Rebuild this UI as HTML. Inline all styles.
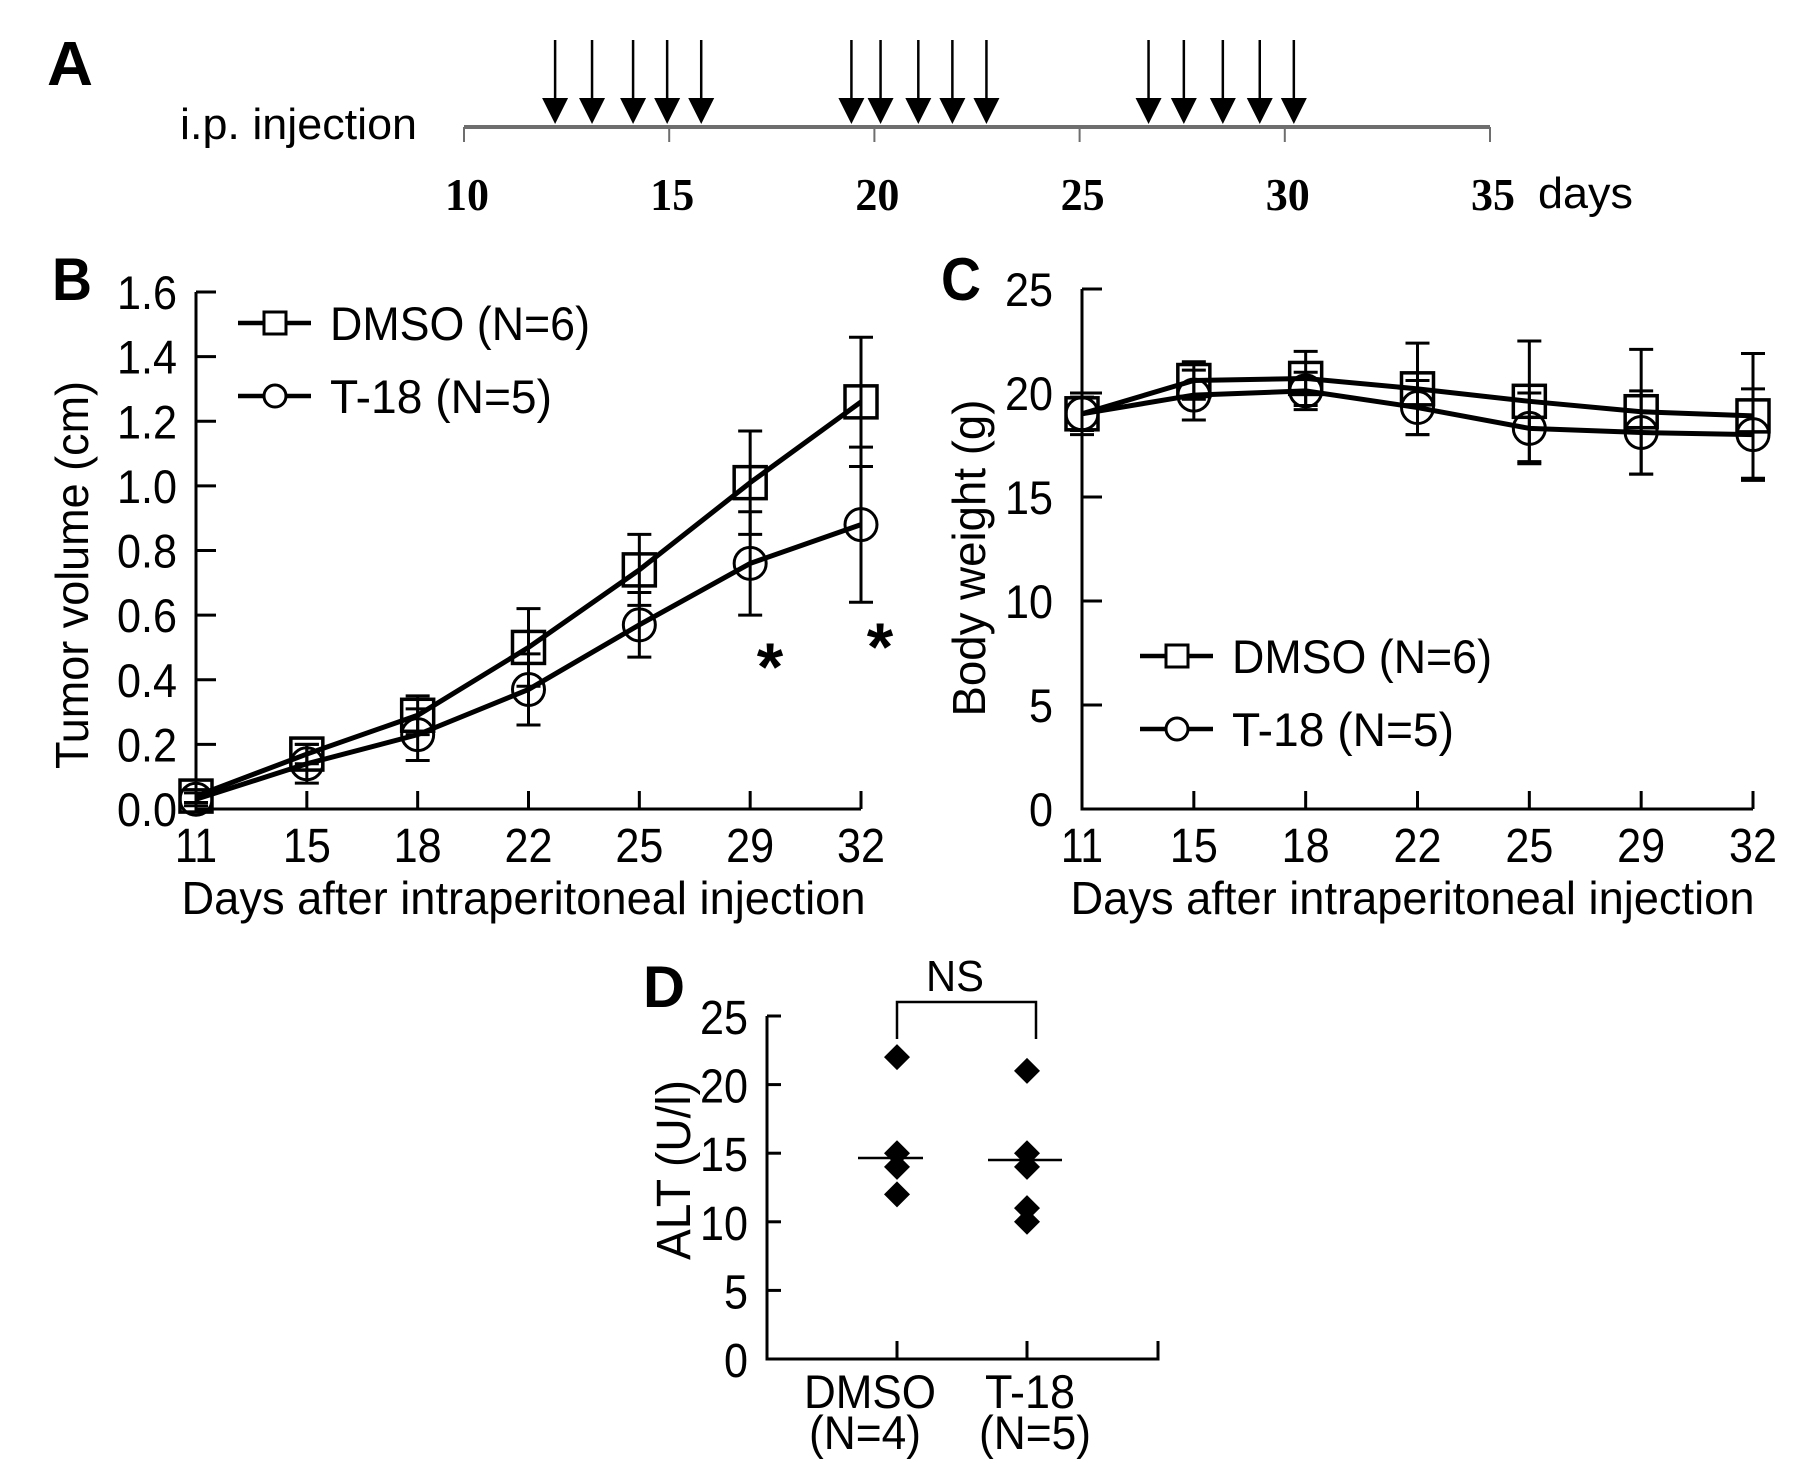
<!DOCTYPE html>
<html><head><meta charset="utf-8"><style>
html,body{margin:0;padding:0;background:#fff;}
svg{display:block;}
text{font-family:"Liberation Sans",Arial,sans-serif;fill:#000;}
.serif{font-family:"Liberation Serif",serif;font-weight:bold;}
</style></head><body>
<svg id="fig" width="1807" height="1463" viewBox="0 0 1807 1463" xmlns="http://www.w3.org/2000/svg">
<g id="panelA"></g>
<g id="panelB"></g>
<g id="panelC"></g>
<g id="panelD"></g>
</svg>
<script>
// Panel A data
const aTicks = [10, 15, 20, 25, 30, 35];
const aInjectionDays = [12.22, 13.12, 14.12, 14.95, 15.78, 19.44, 20.15, 21.07, 21.9, 22.73, 26.68, 27.54, 28.49, 29.39, 30.22];
// Panel B data
const bDays = ["11", "15", "18", "22", "25", "29", "32"];
const bYTicks = ["0.0", "0.2", "0.4", "0.6", "0.8", "1.0", "1.2", "1.4", "1.6"];
const bDmso = [0.04, 0.17, 0.29, 0.50, 0.74, 1.01, 1.26];
const bDmsoErr = [0.02, 0.03, 0.06, 0.12, 0.11, 0.16, 0.20];
const bT18 = [0.03, 0.14, 0.23, 0.37, 0.57, 0.76, 0.88];
const bT18Err = [0.02, 0.06, 0.08, 0.11, 0.10, 0.16, 0.24];
// Panel C data
const cDays = ["11", "15", "18", "22", "25", "29", "32"];
const cYTicks = ["0", "5", "10", "15", "20", "25"];
const cDmso = [19.0, 20.6, 20.7, 20.2, 19.6, 19.1, 18.9];
const cDmsoErr = [0.8, 0.9, 1.3, 2.2, 2.9, 3.0, 3.0];
const cT18 = [19.0, 19.9, 20.1, 19.3, 18.3, 18.1, 18.0];
const cT18Err = [1.0, 1.2, 0.9, 1.3, 1.7, 2.0, 2.2];
// Panel D data
const dGroups = ["DMSO", "T-18"];
const dGroupN = ["(N=4)", "(N=5)"];
const dYTicks = ["0", "5", "10", "15", "20", "25"];
const dDmsoVals = [22, 15, 14, 12];
const dT18Vals = [21, 15, 14, 11, 10];
const dMeans = [14.65, 14.5];

const NS = "http://www.w3.org/2000/svg";
function mk(parent, tag, attrs, txt) {
  const e = document.createElementNS(NS, tag);
  for (const k in attrs) e.setAttribute(k, attrs[k]);
  if (txt !== undefined) e.textContent = txt;
  parent.appendChild(e);
  return e;
}

// ---------- Panel A ----------
(function(){
  const g = document.getElementById('panelA');
  const x = d => 464 + (d - 10) * (1490 - 464) / 25;
  let t = mk(g, 'text', {x: 47, y: 85, 'font-size': 62, 'font-weight': 'bold', textLength: 46, lengthAdjust: 'spacingAndGlyphs'}, 'A');
   
  t = mk(g, 'text', {x: 180, y: 139, 'font-size': 44, textLength: 237, lengthAdjust: 'spacingAndGlyphs'}, 'i.p. injection');
   
  let l = mk(g, 'line', {x1: x(10), y1: 127, x2: x(35), y2: 127, stroke: '#6e6e6e', 'stroke-width': 4});
   
  aTicks.forEach(d => {
    const tk = mk(g, 'line', {x1: x(d), y1: 127, x2: x(d), y2: 142, stroke: '#6e6e6e', 'stroke-width': 2});
     
    const tl = mk(g, 'text', {x: x(d) + 3, y: 210, 'font-size': 46, 'text-anchor': 'middle', class: 'serif', textLength: 44, lengthAdjust: 'spacingAndGlyphs'}, String(d));
     
  });
  t = mk(g, 'text', {x: 1538, y: 208, 'font-size': 44, textLength: 95, lengthAdjust: 'spacingAndGlyphs'}, 'days');
   
  aInjectionDays.forEach(d => {
    const ag = mk(g, 'g', {});
     
    mk(ag, 'line', {x1: x(d), y1: 40, x2: x(d), y2: 100, stroke: '#000', 'stroke-width': 2.5});
    mk(ag, 'polygon', {points: `${x(d)-13},98 ${x(d)+13},98 ${x(d)},124`, fill: '#000'});
  });
})();

// ---------- Line chart helper ----------
function lineChart(gid, cfg) {
  const g = document.getElementById(gid);
  const {x0, x1, y0, y1, yMax, cats, yTicks, s1, e1, s2, e2} = cfg;
  const n = cats.length;
  const xs = i => x0 + i * (x1 - x0) / (n - 1);
  const ys = v => y0 - v / yMax * (y0 - y1);
  let t = mk(g, 'text', {x: cfg.lx, y: cfg.ly, 'font-size': 60, 'font-weight': 'bold', textLength: 40, lengthAdjust: 'spacingAndGlyphs'}, cfg.label);
   
  const ax = mk(g, 'path', {d: `M${x0},${ys(yMax)} V${y0} H${x1}`, fill: 'none', stroke: '#000', 'stroke-width': 3});
   
  yTicks.forEach((lab, i) => {
    const v = i * yMax / (yTicks.length - 1);
    const tk = mk(g, 'line', {x1: x0, y1: ys(v), x2: x0 + 20, y2: ys(v), stroke: '#000', 'stroke-width': 3});
     
    const tl = mk(g, 'text', {x: cfg.yLabRight, y: ys(v) + 17, 'font-size': 47, 'text-anchor': 'end', textLength: lab.length > 2 ? 60 : (lab.length === 2 ? 48 : 24), lengthAdjust: 'spacingAndGlyphs'}, lab);
     
  });
  cats.forEach((c, i) => {
    if (i > 0) {
      const tk = mk(g, 'line', {x1: xs(i), y1: y0, x2: xs(i), y2: y0 - 18, stroke: '#000', 'stroke-width': 3});
       
    }
    const tl = mk(g, 'text', {x: xs(i), y: 862, 'font-size': 48, 'text-anchor': 'middle', textLength: c === '11' ? 42 : 48, lengthAdjust: 'spacingAndGlyphs'}, c);
     
  });
  t = mk(g, 'text', {x: (x0 + x1) / 2 - 5, y: 914, 'font-size': 46, 'text-anchor': 'middle', textLength: 684, lengthAdjust: 'spacingAndGlyphs'}, 'Days after intraperitoneal injection');
   
  t = mk(g, 'text', {x: 0, y: 0, 'font-size': 46, 'text-anchor': 'middle', textLength: cfg.ytLen, lengthAdjust: 'spacingAndGlyphs', transform: `translate(${cfg.ytx},${cfg.yty}) rotate(-90)`}, cfg.yTitle);
   

  function series(vals, errs, marker, name) {
    const sg = mk(g, 'g', {});
     
    vals.forEach((v, i) => {
      const eb = mk(sg, 'path', {d: `M${xs(i)},${ys(v+errs[i])} V${ys(v-errs[i])} M${xs(i)-12},${ys(v+errs[i])} h24 M${xs(i)-12},${ys(v-errs[i])} h24`, stroke: '#000', 'stroke-width': 3, fill: 'none'});
       
    });
    const pl = mk(sg, 'polyline', {points: vals.map((v, i) => `${xs(i)},${ys(v)}`).join(' '), fill: 'none', stroke: '#000', 'stroke-width': 5});
     
    vals.forEach((v, i) => {
      let m;
      if (marker === 'square') m = mk(sg, 'rect', {x: xs(i) - 16, y: ys(v) - 16, width: 32, height: 32, fill: 'none', stroke: '#000', 'stroke-width': 3.5});
      else m = mk(sg, 'circle', {cx: xs(i), cy: ys(v), r: 16, fill: 'none', stroke: '#000', 'stroke-width': 3});
       
    });
  }
  series(s2, e2, 'circle', 't18-series');
  series(s1, e1, 'square', 'dmso-series');

  function legend(y, marker, label, len) {
    const lg = mk(g, 'g', {});
     
    mk(lg, 'line', {x1: cfg.legX, y1: y, x2: cfg.legX + 73, y2: y, stroke: '#000', 'stroke-width': 4.5});
    if (marker === 'square') mk(lg, 'rect', {x: cfg.legX + 26, y: y - 11, width: 22, height: 22, fill: '#fff', stroke: '#000', 'stroke-width': 3});
    else mk(lg, 'circle', {cx: cfg.legX + 37, cy: y, r: 11, fill: '#fff', stroke: '#000', 'stroke-width': 3});
    mk(lg, 'text', {x: cfg.legX + 92, y: y + 17, 'font-size': 47, textLength: len, lengthAdjust: 'spacingAndGlyphs'}, label);
  }
  legend(cfg.legY1, 'square', 'DMSO (N=6)', 260);
  legend(cfg.legY2, 'circle', 'T-18 (N=5)', 222);
}

lineChart('panelB', {x0: 196, x1: 861, y0: 809, y1: 292, yMax: 1.6, cats: bDays, yTicks: bYTicks,
  s1: bDmso, e1: bDmsoErr, s2: bT18, e2: bT18Err, label: 'B', labelName: 'panel-b-label', lx: 52, ly: 300,
  yLabRight: 177, yTitle: 'Tumor volume (cm)', ytx: 88, yty: 575, ytLen: 388, legX: 238, legY1: 323, legY2: 396});
lineChart('panelC', {x0: 1082, x1: 1753, y0: 809, y1: 289, yMax: 25, cats: cDays, yTicks: cYTicks,
  s1: cDmso, e1: cDmsoErr, s2: cT18, e2: cT18Err, label: 'C', labelName: 'panel-c-label', lx: 941, ly: 300,
  yLabRight: 1053, yTitle: 'Body weight (g)', ytx: 985, yty: 558, ytLen: 317, legX: 1140, legY1: 656, legY2: 729});

// asterisks
(function(){
  const g = document.getElementById('panelB');
  [[770, 690], [880, 670]].forEach(p => {
    const a = mk(g, 'text', {x: p[0], y: p[1], 'font-size': 68, 'text-anchor': 'middle', 'font-weight': 'bold'}, '*');
     
  });
})();

// ---------- Panel D ----------
(function(){
  const g = document.getElementById('panelD');
  const x0 = 767, xEnd = 1158, y0 = 1359, yTop = 1016, yMax = 25;
  const ys = v => y0 - v / yMax * (y0 - yTop);
  const gx = [897, 1027];
  let t = mk(g, 'text', {x: 643, y: 1007, 'font-size': 58, 'font-weight': 'bold', textLength: 42, lengthAdjust: 'spacingAndGlyphs'}, 'D');
   
  const ax = mk(g, 'path', {d: `M${x0},${yTop} V${y0} H${xEnd} V${y0-18}`, fill: 'none', stroke: '#000', 'stroke-width': 3});
   
  dYTicks.forEach((lab, i) => {
    const v = i * yMax / (dYTicks.length - 1);
    const tk = mk(g, 'line', {x1: x0, y1: ys(v), x2: x0 + 14, y2: ys(v), stroke: '#000', 'stroke-width': 3});
     
    const tl = mk(g, 'text', {x: 748, y: ys(v) + 18, 'font-size': 48, 'text-anchor': 'end', textLength: lab.length === 2 ? 48 : 24, lengthAdjust: 'spacingAndGlyphs'}, lab);
     
  });
  t = mk(g, 'text', {x: 0, y: 0, 'font-size': 48, 'text-anchor': 'middle', textLength: 180, lengthAdjust: 'spacingAndGlyphs', transform: 'translate(690,1170) rotate(-90)'}, 'ALT (U/l)');
   
  dGroups.forEach((name, i) => {
    const tk = mk(g, 'line', {x1: gx[i], y1: y0, x2: gx[i], y2: y0 - 18, stroke: '#000', 'stroke-width': 3});
     
    const l1 = mk(g, 'text', {x: gx[i] - 27 + i * 30, y: 1408, 'font-size': 47, 'text-anchor': 'middle', textLength: i === 0 ? 132 : 90, lengthAdjust: 'spacingAndGlyphs'}, name);
     
    const l2 = mk(g, 'text', {x: gx[i] - 32 + i * 40, y: 1449, 'font-size': 47, 'text-anchor': 'middle', textLength: 112, lengthAdjust: 'spacingAndGlyphs'}, dGroupN[i]);
     
  });
  [dDmsoVals, dT18Vals].forEach((vals, i) => {
    vals.forEach(v => {
      const d = mk(g, 'polygon', {points: `${gx[i]},${ys(v)-13} ${gx[i]+13},${ys(v)} ${gx[i]},${ys(v)+13} ${gx[i]-13},${ys(v)}`, fill: '#000'});
       
    });
    const m = mk(g, 'line', {x1: gx[i] - 39, y1: ys(dMeans[i]), x2: gx[i] + 26 + i * 9, y2: ys(dMeans[i]), stroke: '#000', 'stroke-width': 2.5});
     
  });
  const br = mk(g, 'path', {d: 'M897,1039 V1002 H1036 V1039', fill: 'none', stroke: '#000', 'stroke-width': 2.5});
   
  t = mk(g, 'text', {x: 955, y: 991, 'font-size': 44, 'text-anchor': 'middle', textLength: 58, lengthAdjust: 'spacingAndGlyphs'}, 'NS');
   
})();
</script>
</body></html>
